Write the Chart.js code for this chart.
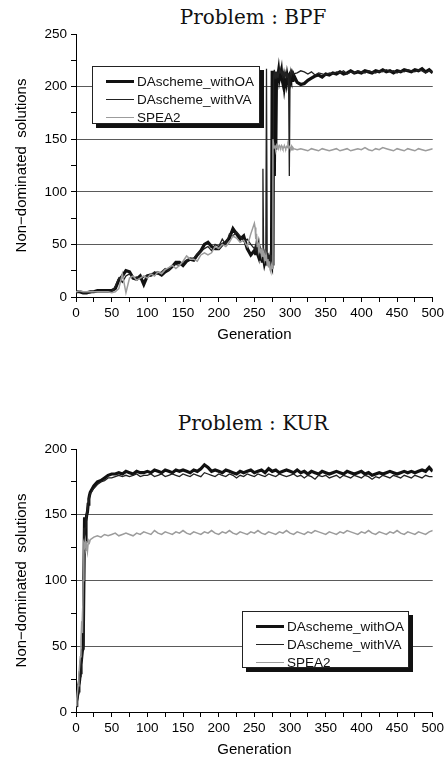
<!DOCTYPE html>
<html>
<head>
<meta charset="utf-8">
<script src="https://cdn.jsdelivr.net/npm/chart.js@4.4.1/dist/chart.umd.min.js"></script>
<style>
  body { margin: 0; background: #fff; width: 447px; height: 759px; position: relative; overflow: hidden;
         font-family: "Liberation Sans", Arial, sans-serif; }
  .title { position: absolute; left: 76px; width: 354px; text-align: center; color: #111;
           font-family: "DejaVu Serif", serif; font-size: 20px; line-height: 20px; white-space: pre; }
  canvas { position: absolute; left: 0; }
  .legend { position: absolute; background: #fff; border: 1px solid #222; box-shadow: 4px 4px 0 #111;
            box-sizing: border-box; padding-top: 5px; overflow: hidden; }
  .legend .row { height: 18px; display: flex; align-items: center; font-size: 13.5px; color: #111;
                 font-family: "Liberation Sans", Arial, sans-serif; white-space: nowrap; }
  .legend .swatch { flex: 0 0 28px; width: 28px; margin-left: 13px; margin-right: 3px; }
</style>
</head>
<body>
<div class="title" style="top:7px">Problem : BPF</div>
<canvas id="bpf" width="447" height="350" style="top:0"></canvas>
<div id="bpf-legend" class="legend" style="left:92px; top:66px; width:168px; height:58px"></div>

<div class="title" style="top:413px">Problem : KUR</div>
<canvas id="kur" width="447" height="359" style="top:400px"></canvas>
<div id="kur-legend" class="legend" style="left:242px; top:611px; width:167px; height:57px"></div>

<script>
const seriesNames = ['DAscheme_withOA', 'DAscheme_withVA', 'SPEA2'];

// ---- Problem BPF ----
const bpfGen = [
  0,5,10,15,20,25,30,35,40,45,50,55,60,65,70,75,80,85,90,95,100,105,110,115,120,125,130,135,140,145,
  150,155,160,165,170,175,180,185,190,195,200,205,210,215,220,225,230,235,240,245,250,
  251,252,253,254,255,256,257,258,259,260,261,262,263,264,265,266,267,268,269,270,
  271,272,273,274,275,276,277,278,279,280,281,282,283,284,285,286,287,288,289,290,
  291,292,293,294,295,296,297,298,299,300,301,302,303,304,305,
  310,315,320,325,330,335,340,345,350,355,360,365,370,375,380,385,390,395,400,405,
  410,415,420,425,430,435,440,445,450,455,460,465,470,475,480,485,490,495,500
];
const bpfOA = [
  5,5,4,4,5,5,6,6,6,6, 6,8,16,20,25,24,18,17,20,12, 20,21,22,23,21,24,26,29,33,33,
  30,34,36,35,40,44,50,52,48,46, 46,50,52,56,65,60,55,58,46,40, 44,
  44,40,46,42,40,45,38,36,42,40, 34,38,36,32,35,30,38,32,40,36,
  33,30,32,30,215,30,212,115,214,140, 212,205,210,215,208,212,210,214,206,203,
  207,200,205,208,204,210,206,208,204,209, 207,210,206,208,211,
  204,202,203,206,208,210,211,209,212,211, 213,212,214,212,213,215,213,214,213,215,
  214,213,215,214,216,214,215,213,215,214, 216,215,214,216,215,217,214,216,213
];
const bpfVA = [
  4,5,4,4,4,5,5,5,5,5, 5,10,18,14,20,22,18,19,17,19, 21,20,24,22,24,27,25,30,31,30,
  33,35,37,37,41,43,46,48,44,50, 48,55,50,60,58,62,58,53,55,50, 46,
  48,44,50,45,42,47,44,40,45,42, 40,122,38,42,36,40,217,34,42,38,
  35,40,32,36,28,40,210,216,208,214, 210,213,208,212,216,213,215,212,214,211,
  213,210,214,211,212,209,213,201,115,212, 214,211,215,213,212,
  213,215,214,212,214,211,213,212,211,213, 212,214,213,215,212,214,213,215,214,213,
  215,214,213,215,214,216,214,215,213,215, 214,216,215,214,216,215,213,215,214
];
const bpfSPEA2 = [
  5,6,5,5,5,5,5,5,5,5, 4,5,8,22,4,18,20,16,18,20, 18,22,20,24,22,26,28,30,27,30,
  34,39,36,36,34,40,42,40,42,48, 46,50,48,52,58,56,52,54,48,60, 70,
  66,55,60,48,52,45,50,42,46,40, 44,38,42,36,40,34,38,30,36,28,
  34,26,24,30,27,150,145,142,143,141, 144,142,143,141,144,143,142,144,143,141,
  142,144,142,141,143,142,144,141,143,142, 141,143,140,142,141,
  140,141,140,139,141,140,139,141,140,139, 140,141,139,140,141,139,140,141,140,142,
  140,139,141,140,142,141,140,139,141,140, 139,141,140,139,141,140,139,140,141
];

// ---- Problem KUR ----
const kurGen = [
  0,1,2,3,4,5,6,7,8,9,10,11,12,13,14,15,16,17,18,19,20,
  25,30,35,40,45,50,55,60,65,70,75,80,85,90,95,100,105,110,115,120,
  125,130,135,140,145,150,155,160,165,170,175,180,185,190,195,200,205,210,215,220,
  225,230,235,240,245,250,255,260,265,270,275,280,285,290,295,300,305,310,315,320,
  325,330,335,340,345,350,355,360,365,370,375,380,385,390,395,400,405,410,415,420,
  425,430,435,440,445,450,455,460,465,470,475,480,485,490,495,500
];
const kurOA = [
  5,8,12,16,20,24,30,36,42,47,48,48,148,130,145,150,152,158,162,165,167,
  172,175,176,178,180,181,181,182,181,183, 182,181,183,182,182,183,182,184,183,182,
  184,183,182,184,183,184,183,182,184,183, 185,188,186,183,184,183,182,184,183,182,
  181,183,182,183,184,182,183,184,182,185, 183,184,182,183,184,183,182,184,182,183,
  181,183,182,181,183,182,181,182,183,182, 181,183,182,181,182,183,181,182,180,181,
  182,181,182,183,182,181,182,183,182,183, 182,183,184,183,186,183
];
const kurVA = [
  4,6,9,14,18,22,27,33,40,46,50,140,128,140,146,150,155,159,162,164,166,
  170,173,175,176,178,178,179,180,179,180, 179,180,181,179,180,180,181,179,180,181,
  179,180,181,180,179,181,180,179,181,180, 179,182,181,180,179,181,180,179,181,180,
  178,180,179,181,180,179,181,180,179,181, 180,179,181,180,179,180,181,179,180,178,
  180,179,177,180,179,180,178,179,180,178, 180,179,178,180,179,178,180,179,177,179,
  178,180,179,178,180,179,178,180,179,178, 180,179,178,180,179,179
];
const kurSPEA2 = [
  5,10,15,20,28,35,42,55,69,60,100,128,126,130,124,126,122,128,130,129,131,
  133,134,133,135,134,135,136,134,135,136, 135,134,136,135,137,136,135,138,136,135,
  137,136,135,137,136,138,136,135,137,136, 135,137,136,138,136,135,137,136,138,136,
  135,137,136,135,137,136,138,136,135,137, 136,135,137,136,138,136,135,137,136,135,
  137,136,138,137,136,135,137,136,135,137, 136,138,137,136,135,137,136,138,136,135,
  137,136,135,137,136,138,136,135,137,136, 135,137,136,135,137,138
];

const lineStyles = [
  { borderColor: '#111', borderWidth: 3.2, order: 3 },
  { borderColor: '#222', borderWidth: 1.3, order: 2 },
  { borderColor: '#9c9c9c', borderWidth: 1.5, order: 1 }
];

const tickFont = { family: '"Liberation Sans", Arial, sans-serif', size: 13.5 };
const titleFont = { family: '"Liberation Sans", Arial, sans-serif', size: 15 };

function toPoints(gens, values) {
  return gens.map((g, i) => ({ x: g, y: values[i] }));
}

function makeChart(id, legendId, gens, seriesValues, yMax, opts) {
  const datasets = seriesValues.map((vals, i) => ({
    label: seriesNames[i],
    data: toPoints(gens, vals),
    borderColor: lineStyles[i].borderColor,
    borderWidth: lineStyles[i].borderWidth,
    order: lineStyles[i].order,
    pointRadius: 0,
    tension: 0,
    fill: false
  }));

  const chart = new Chart(document.getElementById(id), {
    type: 'line',
    data: { datasets: datasets },
    options: {
      responsive: false,
      animation: false,
      devicePixelRatio: 1,
      layout: { padding: { top: opts.padTop, right: opts.padRight, bottom: 0, left: 0 } },
      plugins: { legend: { display: false }, tooltip: { enabled: false } },
      scales: {
        x: {
          type: 'linear',
          min: 0,
          max: 500,
          afterFit: scale => { scale.height = opts.xHeight; },
          border: { display: true, color: '#000', width: 1 },
          grid: { drawOnChartArea: false, tickColor: '#000', tickLength: 5 },
          ticks: {
            stepSize: 25,
            autoSkip: false,
            maxRotation: 0,
            padding: 3,
            color: '#000',
            font: tickFont,
            callback: v => (v % 50 === 0 ? v : '')
          },
          title: {
            display: true,
            text: 'Generation',
            color: '#000',
            font: titleFont,
            padding: { top: 0, bottom: opts.xTitlePad }
          }
        },
        y: {
          min: 0,
          max: yMax,
          afterFit: scale => { scale.width = 76; },
          border: { display: true, color: '#000', width: 1 },
          grid: {
            color: ctx => (ctx.tick && ctx.tick.value % 50 === 0 && ctx.tick.value > 0 && ctx.tick.value < yMax)
              ? '#5a5a5a' : 'rgba(0,0,0,0)',
            tickColor: '#000',
            tickLength: 5,
            lineWidth: 1
          },
          ticks: {
            stepSize: 25,
            autoSkip: false,
            padding: 4,
            color: '#000',
            font: tickFont,
            callback: v => (v % 50 === 0 ? v : '')
          },
          title: {
            display: true,
            text: 'Non\u2212dominated  solutions',
            color: '#000',
            font: titleFont,
            padding: { top: 13, bottom: 0 }
          }
        }
      }
    }
  });

  // legend box built from the chart's own datasets
  const box = document.getElementById(legendId);
  chart.data.datasets.forEach(ds => {
    const row = document.createElement('div');
    row.className = 'row';
    const swatch = document.createElement('div');
    swatch.className = 'swatch';
    swatch.style.borderTop = ds.borderWidth + 'px solid ' + ds.borderColor;
    const label = document.createElement('span');
    label.textContent = ds.label;
    row.appendChild(swatch);
    row.appendChild(label);
    box.appendChild(row);
  });
  return chart;
}

makeChart('bpf', 'bpf-legend', bpfGen, [bpfOA, bpfVA, bpfSPEA2], 250,
  { padTop: 34, padRight: 13, xHeight: 53, xTitlePad: 6 });
makeChart('kur', 'kur-legend', kurGen, [kurOA, kurVA, kurSPEA2], 200,
  { padTop: 49, padRight: 14, xHeight: 47, xTitlePad: 0 });
</script>
</body>
</html>
